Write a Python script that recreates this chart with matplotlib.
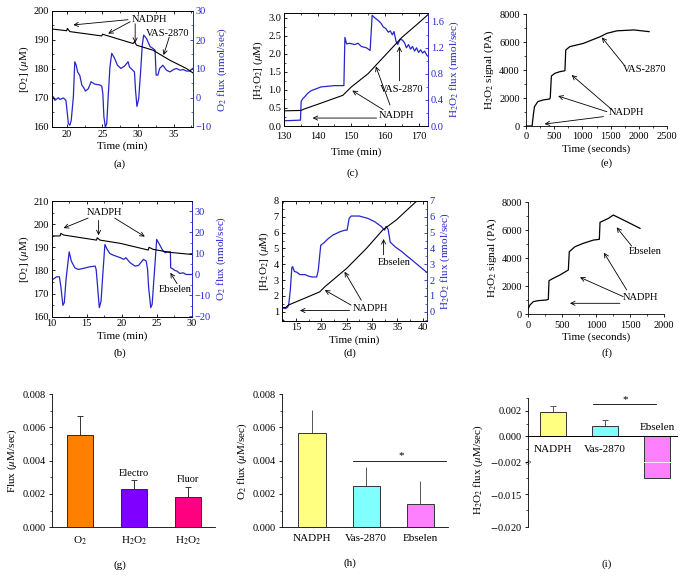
import numpy as np
import matplotlib
matplotlib.use("Agg")
import matplotlib.pyplot as plt
from matplotlib.ticker import AutoMinorLocator, MultipleLocator

plt.rcParams['font.family'] = ['Liberation Serif', 'DejaVu Serif']
plt.rcParams['mathtext.fontset'] = 'stix'
plt.rcParams['font.size'] = 7.5

BLUE = '#2626c8'

# ---- panel a: O2 trace (black) and O2 flux (blue)
a_t = [17.85, 19.96, 20.05, 20.4, 24.9, 25.0, 27.0, 29.3, 29.5, 29.8, 32.1, 34.5, 36.8, 37.7]
a_o2 = [193.8, 193.2, 194.0, 192.9, 191.4, 192.0, 190.5, 188.8, 189.4, 188.2, 186.5, 183.0, 180.2, 178.7]
a_ft = [17.85, 18.1, 18.3, 18.8, 19.0, 19.5, 19.85, 19.95, 20.2, 20.4, 20.6, 20.9, 21.1, 21.3, 21.5,
        21.8, 22.1, 22.3, 22.6, 23.0, 23.4, 23.9, 24.6, 24.9, 25.05, 25.2, 25.4, 25.6, 25.8, 26.05,
        26.3, 26.7, 27.1, 27.6, 28.1, 28.6, 28.8, 29.5, 29.65, 29.85, 30.1, 30.35, 30.6, 30.8, 31.2,
        31.7, 32.1, 32.4, 32.55, 32.8, 33.05, 33.5, 34.0, 34.5, 35.0, 35.4, 35.9, 36.4, 36.8, 37.3, 37.7]
a_flux = [-0.2, 0.4, -0.8, 0.1, -0.5, 0.0, -0.8, -3.0, -8.8, -9.4, -7.7, 0.4, 12.5, 11.3, 9.0,
          7.8, 4.4, 3.8, 2.4, 3.2, 5.6, 4.8, 4.5, 4.1, 1.5, -6.5, -10.0, -8.8, 0.4, 10.7,
          15.4, 13.7, 11.3, 10.2, 11.0, 12.5, 10.7, 9.0, 2.7, -2.9, -0.2, 8.5, 18.2, 21.7, 20.5,
          17.7, 17.1, 16.5, 7.9, 7.9, 10.2, 11.3, 9.6, 9.0, 9.8, 10.2, 9.6, 9.8, 9.3, 9.3, 10.2]

# ---- panel b
b_t = [10.0, 11.2, 11.3, 11.7, 16.4, 16.5, 16.9, 19.8, 23.8, 23.9, 24.5, 26.9, 30.0]
b_o2 = [194.9, 194.9, 196.0, 195.3, 193.1, 194.1, 193.1, 191.7, 188.8, 190.0, 189.1, 187.8, 186.9]
b_ft = [10.0, 10.7, 11.1, 11.3, 11.6, 11.8, 12.05, 12.4, 12.5, 12.8, 13.3, 13.8, 14.5, 15.5, 16.2,
        16.35, 16.55, 16.8, 17.05, 17.3, 17.6, 17.9, 18.3, 18.8, 19.8, 20.3, 20.6, 21.2, 21.9, 22.4,
        23.1, 23.5, 23.7, 23.85, 24.15, 24.35, 24.6, 25.0, 25.4, 25.9, 26.2, 26.7, 26.95, 27.0, 27.3,
        27.6, 27.9, 28.3, 28.8, 29.2, 29.6, 30.0]
b_flux = [-2.9, -1.3, -1.3, -5.7, -14.9, -13.6, -2.5, 7.8, 10.6, 6.2, 3.0, 2.2, 2.7, 3.5, 3.8,
          2.2, -5.7, -16.0, -12.9, -0.2, 14.1, 11.9, 9.8, 9.0, 7.8, 7.0, 7.8, 5.4, 3.8, 4.1,
          7.0, 6.2, 2.2, -6.5, -16.0, -14.4, -2.5, 16.5, 14.1, 11.0, 10.2, 10.6, 10.6, 3.0, 2.5,
          1.7, 1.4, 0.3, 0.6, -0.2, -0.2, -0.2]

# ---- panel c: H2O2 (black) and H2O2 flux (blue)
c_t = [130, 135, 136, 140, 147.5, 150, 155, 160, 165, 170, 173]
c_h2o2 = [0.42, 0.43, 0.47, 0.6, 0.85, 1.08, 1.45, 1.95, 2.45, 2.85, 3.1]
c_ft = [130, 134.9, 135.1, 135.6, 136.2, 137, 138, 139.5, 141, 143, 145, 147.8, 148.1, 148.6, 149.5,
        151, 152, 153, 154.5, 155.6, 156.2, 157, 158, 158.8, 159.5, 160.2, 161, 161.6, 162.2,
        162.7, 163.3, 163.8, 164.5, 165.2, 165.8, 166.4, 167, 167.6, 168.2, 168.8, 169.4, 170,
        170.6, 171.2, 171.8, 172.4, 173]
c_flux = [0.08, 0.09, 0.38, 0.42, 0.45, 0.5, 0.54, 0.57, 0.6, 0.61, 0.62, 0.62, 1.36, 1.26, 1.27,
          1.25, 1.27, 1.22, 1.2, 1.16, 1.7, 1.66, 1.62, 1.58, 1.52, 1.5, 1.44, 1.46, 1.4,
          1.45, 1.3, 1.25, 1.33, 1.32, 1.28, 1.2, 1.25, 1.18, 1.22, 1.15, 1.2, 1.13,
          1.17, 1.12, 1.15, 1.09, 1.06]

# ---- panel d
d_t = [12.2, 13.0, 13.5, 19.7, 20.7, 25.0, 28.9, 32.1, 34.8, 38.7, 40.8]
d_h2o2 = [1.27, 1.27, 1.42, 2.26, 2.58, 3.74, 5.0, 6.16, 6.8, 7.96, 8.5]
d_ft = [12.2, 12.9, 13.4, 13.6, 13.9, 14.2, 14.35, 14.7, 15.2, 15.8, 16.8, 17.5, 18.2, 19.1, 19.4,
        19.9, 20.5, 21.3, 22.3, 23.7, 24.7, 25.1, 25.5, 25.9, 27.5, 29.2, 30.5, 31.8, 32.5, 32.8,
        33.2, 33.6, 34.6, 35.9, 37.0, 37.9, 39.5, 40.8]
d_flux = [0.27, 0.2, 0.3, 0.5, 1.37, 2.8, 2.85, 2.55, 2.5, 2.35, 2.35, 2.25, 2.2, 2.2, 2.6,
          4.2, 4.35, 4.6, 4.85, 5.06, 5.16, 5.16, 5.9, 6.05, 6.05, 5.9, 5.7, 5.4, 5.16, 5.4,
          5.2, 4.4, 4.1, 3.8, 3.5, 3.27, 2.84, 2.5]

# ---- panels e, f: H2O2 signal vs time (s)
e_s = [0, 108, 130, 150, 210, 300, 420, 430, 450, 510, 600, 690, 705, 777, 1017, 1316, 1435, 1614, 1914, 2183]
e_sig = [0, 0, 786, 1380, 1740, 1857, 1930, 2020, 3570, 3760, 3880, 3950, 5430, 5670, 5900, 6380, 6620, 6800, 6860, 6740]
f_s = [0, 25, 74, 147, 270, 295, 305, 368, 467, 590, 604, 688, 811, 958, 1047, 1057, 1180, 1253, 1450, 1646]
f_sig = [428, 666, 904, 976, 1023, 1070, 2400, 2570, 2810, 3165, 4470, 4830, 5070, 5300, 5355, 6570, 6850, 7090, 6620, 6140]

# ---- bar panels
g_labels = ['O$_2$', 'H$_2$O$_2$', 'H$_2$O$_2$']
g_vals = [0.00554, 0.00230, 0.00184]
g_err = [0.00116, 0.00054, 0.00060]
g_notes = ['', 'Electro', 'Fluor']
g_colors = ['#ff8000', '#8000ff', '#ff0080']

h_labels = ['NADPH', 'Vas-2870', 'Ebselen']
h_vals = [0.00564, 0.00248, 0.00138]
h_err = [0.00140, 0.00112, 0.00140]
h_colors = ['#ffff80', '#80ffff', '#ff80ff']

i_labels = ['NADPH', 'Vas-2870', 'Ebselen']
i_vals = [0.00192, 0.00079, -0.01253]
i_err = [0.00045, 0.00047, 0.0]

W, H = 690, 578
fig = plt.figure(figsize=(W / 100, H / 100), dpi=100)


def place(l, t, r, b):
    return fig.add_axes([l / W, 1 - b / H, (r - l) / W, (b - t) / H])


def label_at(x, y, s, **kw):
    fig.text(x / W, 1 - y / H, s, ha='center', va='center', **kw)


def arrow(ax, tail, head):
    ax.annotate('', xy=head, xytext=tail,
                arrowprops=dict(arrowstyle='->', lw=0.6, color='k', shrinkA=0, shrinkB=0))


def trace_axes(ax, ax2):
    ax.tick_params(direction='in', top=True, length=2.5, width=0.6, labelsize=7.5, pad=2)
    ax.tick_params(which='minor', direction='in', top=True, length=1.5, width=0.5)
    ax.xaxis.set_minor_locator(AutoMinorLocator(2))
    ax.yaxis.set_minor_locator(AutoMinorLocator(2))
    ax2.tick_params(direction='in', length=2.5, width=0.6, colors=BLUE, labelsize=7.5, pad=2)
    ax2.tick_params(which='minor', direction='in', length=1.5, width=0.5, colors=BLUE)
    ax2.yaxis.set_minor_locator(AutoMinorLocator(2))
    for sp in ax.spines.values():
        sp.set_linewidth(0.6)
    for k, sp in ax2.spines.items():
        sp.set_linewidth(0.6)
    ax2.spines['right'].set_color(BLUE)
    ax.spines['right'].set_color(BLUE)


# ---------- (a)
ax = place(51.7, 11, 192.7, 127)
ax2 = ax.twinx()
ax.set_zorder(ax2.get_zorder() + 1)
ax.patch.set_visible(False)
ax.plot(a_t, a_o2, color='k', lw=0.8)
ax2.plot(a_ft, a_flux, color=BLUE, lw=0.9)
ax.set_xlim(17.85, 37.7)
ax.set_ylim(160, 200)
ax2.set_ylim(-10, 30)
ax.set_xticks([20, 25, 30, 35])
ax.set_yticks([160, 170, 180, 190, 200])
ax2.set_yticks([-10, 0, 10, 20, 30])
trace_axes(ax, ax2)
ax.set_ylabel('[O$_2$] ($\\mu$M)', fontsize=8, labelpad=2)
ax2.set_ylabel('O$_2$ flux (nmol/sec)', fontsize=8, color=BLUE, labelpad=3)
ax.set_xlabel('Time (min)', fontsize=8, labelpad=2)
ax.text(31.6, 196.9, 'NADPH', ha='center', va='center', fontsize=7.5)
arrow(ax, (28.6, 197.0), (20.9, 195.2))
arrow(ax, (28.9, 196.3), (25.8, 192.2))
arrow(ax, (29.6, 195.6), (29.6, 189.0))
ax.text(34.2, 192.4, 'VAS-2870', ha='center', va='center', fontsize=7.5)
arrow(ax, (34.4, 191.0), (33.6, 184.8))
label_at(120, 164, '(a)', fontsize=8)

# ---------- (b)
ax = place(51.7, 201, 191.7, 316.7)
ax2 = ax.twinx()
ax.set_zorder(ax2.get_zorder() + 1)
ax.patch.set_visible(False)
ax.plot(b_t, b_o2, color='k', lw=0.8)
ax2.plot(b_ft, b_flux, color=BLUE, lw=0.9)
ax.set_xlim(10, 30)
ax.set_ylim(160, 210)
ax2.set_ylim(-20.3, 34.8)
ax.set_xticks([10, 15, 20, 25, 30])
ax.set_yticks([160, 170, 180, 190, 200, 210])
ax2.set_yticks([-20, -10, 0, 10, 20, 30])
trace_axes(ax, ax2)
ax.set_ylabel('[O$_2$] ($\\mu$M)', fontsize=8, labelpad=2)
ax2.set_ylabel('O$_2$ flux (nmol/sec)', fontsize=8, color=BLUE, labelpad=3)
ax.set_xlabel('Time (min)', fontsize=8, labelpad=2)
ax.text(17.6, 205.2, 'NADPH', ha='center', va='center', fontsize=7.5)
arrow(ax, (15.2, 202.6), (11.7, 198.3))
arrow(ax, (16.7, 201.6), (16.7, 195.2))
arrow(ax, (19.0, 202.6), (23.3, 194.6))
ax.text(27.6, 171.6, 'Ebselen', ha='center', va='center', fontsize=7.5)
arrow(ax, (27.9, 174.3), (26.95, 179.0))
label_at(120, 353, '(b)', fontsize=8)

# ---------- (c)
ax = place(284, 13.3, 428, 126)
ax2 = ax.twinx()
ax.set_zorder(ax2.get_zorder() + 1)
ax.patch.set_visible(False)
ax.plot(c_t, c_h2o2, color='k', lw=0.8)
ax2.plot(c_ft, c_flux, color=BLUE, lw=0.9)
ax.set_xlim(130, 172.8)
ax.set_ylim(0, 3.12)
ax2.set_ylim(0, 1.73)
ax.set_xticks([130, 140, 150, 160, 170])
ax.set_yticks(np.arange(0, 3.01, 0.5))
ax.yaxis.set_major_formatter(matplotlib.ticker.FormatStrFormatter('%.1f'))
ax2.set_yticks([0.0, 0.4, 0.8, 1.2, 1.6])
ax2.yaxis.set_major_formatter(matplotlib.ticker.FormatStrFormatter('%.1f'))
trace_axes(ax, ax2)
ax.tick_params(axis='x', pad=4)
ax.set_ylabel('[H$_2$O$_2$] ($\\mu$M)', fontsize=8, labelpad=2)
ax2.set_ylabel('H$_2$O$_2$ flux (nmol/sec)', fontsize=8, color=BLUE, labelpad=3)
ax.set_xlabel('Time (min)', fontsize=8, labelpad=5)
ax.text(163.5, 0.3, 'NADPH', ha='center', va='center', fontsize=7.5)
arrow(ax, (157.5, 0.22), (138.5, 0.22))
arrow(ax, (159.5, 0.45), (150.3, 0.98))
arrow(ax, (161.5, 0.58), (157.3, 1.65))
ax.text(165.0, 1.02, 'VAS-2870', ha='center', va='center', fontsize=7.5)
arrow(ax, (164.3, 1.25), (164.3, 2.2))
label_at(353, 173, '(c)', fontsize=8)

# ---------- (d)
ax = place(281.7, 201, 426.7, 320.5)
ax2 = ax.twinx()
ax.set_zorder(ax2.get_zorder() + 1)
ax.patch.set_visible(False)
ax.plot(d_t, d_h2o2, color='k', lw=0.8)
ax2.plot(d_ft, d_flux, color=BLUE, lw=0.9)
ax.set_xlim(12.2, 40.8)
ax.set_ylim(0.45, 8.0)
ax2.set_ylim(-0.55, 7.0)
ax.set_xticks([15, 20, 25, 30, 35, 40])
ax.set_yticks(range(1, 9))
ax2.set_yticks(range(0, 8))
trace_axes(ax, ax2)
ax.set_ylabel('[H$_2$O$_2$] ($\\mu$M)', fontsize=8, labelpad=2)
ax2.set_ylabel('H$_2$O$_2$ flux (nmol/sec)', fontsize=8, color=BLUE, labelpad=3)
ax.set_xlabel('Time (min)', fontsize=8, labelpad=2)
ax.text(29.8, 1.2, 'NADPH', ha='center', va='center', fontsize=7.5)
arrow(ax, (25.6, 1.08), (15.8, 1.08))
arrow(ax, (25.9, 1.42), (20.7, 2.37))
arrow(ax, (27.9, 1.73), (24.6, 3.53))
ax.text(34.4, 4.1, 'Ebselen', ha='center', va='center', fontsize=7.5)
arrow(ax, (32.3, 4.6), (32.3, 5.6))
label_at(350, 353, '(d)', fontsize=8)


def signal_axes(ax):
    ax.spines['top'].set_visible(False)
    ax.spines['right'].set_visible(False)
    for sp in ax.spines.values():
        sp.set_linewidth(0.6)
    ax.tick_params(direction='out', length=2.5, width=0.6, labelsize=7.5, pad=2)
    ax.tick_params(which='minor', direction='out', length=1.5, width=0.5)
    ax.xaxis.set_minor_locator(AutoMinorLocator(2))
    ax.yaxis.set_minor_locator(AutoMinorLocator(2))


# ---------- (e)
ax = place(526, 14, 667, 126)
ax.plot(e_s, e_sig, color='k', lw=0.9)
ax.set_xlim(0, 2500)
ax.set_ylim(0, 8000)
ax.set_xticks(range(0, 2501, 500))
ax.set_yticks(range(0, 8001, 2000))
signal_axes(ax)
ax.set_ylabel('H$_2$O$_2$ signal (PA)', fontsize=8, labelpad=2)
ax.set_xlabel('Time (seconds)', fontsize=8, labelpad=2)
ax.text(1780, 950, 'NADPH', ha='center', va='center', fontsize=7.5)
arrow(ax, (1375, 670), (330, 140))
arrow(ax, (1435, 1020), (570, 2140))
arrow(ax, (1525, 1160), (810, 3640))
ax.text(2100, 4000, 'VAS-2870', ha='center', va='center', fontsize=7.5)
arrow(ax, (1740, 4360), (1345, 6330))
label_at(607, 163, '(e)', fontsize=8)

# ---------- (f)
ax = place(528.3, 202.3, 664, 314.3)
ax.plot(f_s, f_sig, color='k', lw=0.9)
ax.set_xlim(0, 2000)
ax.set_ylim(0, 8000)
ax.set_xticks(range(0, 2001, 500))
ax.set_yticks(range(0, 8001, 2000))
signal_axes(ax)
ax.set_ylabel('H$_2$O$_2$ signal (PA)', fontsize=8, labelpad=2)
ax.set_xlabel('Time (seconds)', fontsize=8, labelpad=2)
ax.text(1660, 1190, 'NADPH', ha='center', va='center', fontsize=7.5)
arrow(ax, (1350, 785), (614, 785))
arrow(ax, (1400, 1260), (762, 2640))
arrow(ax, (1450, 1740), (1115, 4400))
ax.text(1730, 4520, 'Ebselen', ha='center', va='center', fontsize=7.5)
arrow(ax, (1523, 4880), (1302, 6210))
label_at(607, 353, '(f)', fontsize=8)


def bar_axes(ax):
    ax.spines['top'].set_visible(False)
    ax.spines['right'].set_visible(False)
    for sp in ax.spines.values():
        sp.set_linewidth(0.6)
    ax.tick_params(axis='y', direction='out', length=2.5, width=0.6, labelsize=7.5, pad=2)
    ax.tick_params(axis='y', which='minor', direction='out', length=1.5, width=0.5)
    ax.tick_params(axis='x', length=0, labelsize=8, pad=5)
    ax.yaxis.set_minor_locator(AutoMinorLocator(2))


# ---------- (g)
ax = place(51.7, 394, 215, 527.3)
xg = np.arange(len(g_vals))
ax.bar(xg, g_vals, width=0.48, color=g_colors, edgecolor='#3a2a10', linewidth=0.7, zorder=2)
ax.errorbar(xg, g_vals, yerr=[np.zeros(3), g_err], fmt='none', ecolor='#333333',
            elinewidth=0.7, capsize=2, capthick=0.7, zorder=1)
for xi, v, e, s in zip(xg, g_vals, g_err, g_notes):
    if s:
        ax.text(xi, v + e + 0.0004, s, ha='center', va='center', fontsize=7.5)
ax.set_xlim(-0.52, 2.5)
ax.set_ylim(0, 0.008)
ax.set_yticks(np.arange(0, 0.0081, 0.002))
ax.yaxis.set_major_formatter(matplotlib.ticker.FormatStrFormatter('%.3f'))
ax.set_xticks(xg)
ax.set_xticklabels(g_labels)
bar_axes(ax)
ax.set_ylabel('Flux ($\\mu$M/sec)', fontsize=8, labelpad=2)
label_at(120, 565, '(g)', fontsize=8)

# ---------- (h)
ax = place(281.7, 394, 448.3, 527.3)
xh = np.arange(len(h_vals))
ax.bar(xh, h_vals, width=0.5, color=h_colors, edgecolor='#333333', linewidth=0.7, zorder=2)
ax.errorbar(xh, h_vals, yerr=[np.zeros(3), h_err], fmt='none', ecolor='#555555',
            elinewidth=0.7, capsize=0, zorder=1)
ax.plot([0.75, 2.5 - 0.02], [0.004, 0.004], color='k', lw=0.6)
ax.text(1.65, 0.0043, '*', ha='center', va='center', fontsize=8)
ax.set_xlim(-0.56, 2.52)
ax.set_ylim(0, 0.008)
ax.set_yticks(np.arange(0, 0.0081, 0.002))
ax.yaxis.set_major_formatter(matplotlib.ticker.FormatStrFormatter('%.3f'))
ax.set_xticks(xh)
ax.set_xticklabels(h_labels)
bar_axes(ax)
ax.set_ylabel('O$_2$ flux ($\\mu$M/sec)', fontsize=8, labelpad=2)
label_at(350, 563, '(h)', fontsize=8)

# ---------- (i) broken axis
axt = place(528.3, 398.3, 678.3, 461.7)
axb = place(528.3, 461.7, 678.3, 526.7)
xi_ = np.arange(len(i_vals))
for a_ in (axt, axb):
    a_.bar(xi_, i_vals, width=0.5, color=h_colors, edgecolor='#333333', linewidth=0.7, zorder=2)
    a_.set_xlim(-0.47, 2.4)
    a_.spines['top'].set_visible(False)
    a_.spines['right'].set_visible(False)
    a_.spines['bottom'].set_visible(False)
    a_.spines['left'].set_linewidth(0.6)
    a_.set_xticks([])
    a_.tick_params(axis='y', direction='out', length=2.5, width=0.6, labelsize=7.5, pad=2)
    a_.tick_params(axis='y', which='minor', direction='out', length=1.5, width=0.5)
axt.errorbar(xi_[:2], i_vals[:2], yerr=[np.zeros(2), i_err[:2]], fmt='none', ecolor='#555555',
             elinewidth=0.7, capsize=2, capthick=0.7, zorder=1)
axt.set_ylim(-0.002, 0.003)
axt.set_yticks([-0.002, 0.0, 0.002])
axt.set_yticklabels(['$-$0.002', '0.000', '0.002'])
axt.yaxis.set_minor_locator(MultipleLocator(0.001))
axt.axhline(0, color='k', lw=0.7, zorder=3)
axt.plot([0.77, 1.98], [0.00253, 0.00253], color='k', lw=0.6)
axt.text(1.38, 0.0029, '*', ha='center', va='center', fontsize=8)
for xi, s in zip(xi_[:2], i_labels[:2]):
    axt.text(xi, -0.001, s, ha='center', va='center', fontsize=8)
axt.text(2, 0.0007, i_labels[2], ha='center', va='center', fontsize=8)
axb.set_ylim(-0.020, -0.010)
axb.set_yticks([-0.020, -0.015])
axb.set_yticklabels(['$-$0.020', '$-$0.015'])
axb.yaxis.set_minor_locator(MultipleLocator(0.0025))
axb.plot([1.74, 2.26], [-0.0101, -0.0101], color='white', lw=1.2, zorder=4)
fig.text(528.8 / W, 1 - 461.7 / H, '\u2248', ha='center', va='center', fontsize=7,
         rotation=60, backgroundcolor='none')
fig.text(478 / W, 1 - 470 / H, 'H$_2$O$_2$ flux ($\\mu$M/sec)', ha='center', va='center',
         fontsize=8, rotation=90)
label_at(607, 564, '(i)', fontsize=8)

fig.savefig('out.png', dpi=100)
